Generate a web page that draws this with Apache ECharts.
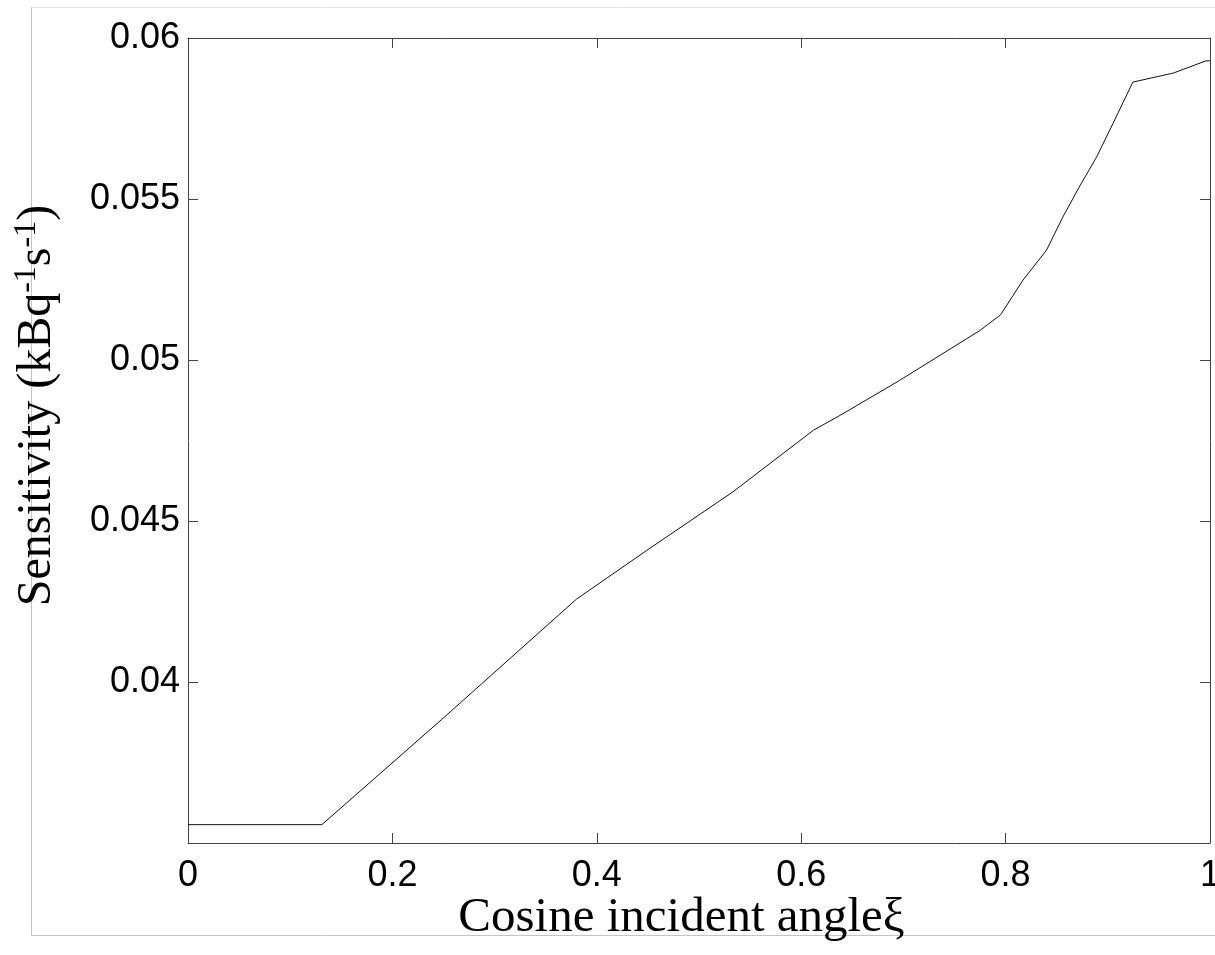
<!DOCTYPE html>
<html>
<head>
<meta charset="utf-8">
<script src="https://cdn.jsdelivr.net/npm/echarts@6/dist/echarts.min.js"></script>
<style>
html,body{margin:0;padding:0;background:#fff;}
#chart{width:1215px;height:955px;}
</style>
</head>
<body>
<div id="chart"></div>
<script>
// Data
const xValues = [0, 0.131, 0.248, 0.380, 0.449, 0.533, 0.612, 0.638, 0.696, 0.775, 0.795, 0.817, 0.840, 0.856, 0.872, 0.889, 0.905, 0.9245, 0.964, 0.996, 1.0];
const sensitivity = [0.03557, 0.03557, 0.03883, 0.04257, 0.04409, 0.04590, 0.04782, 0.04828, 0.04936, 0.05092, 0.05140, 0.05248, 0.05341, 0.05444, 0.05537, 0.05630, 0.05734, 0.05863, 0.05891, 0.05929, 0.05929];
const xTicks = [0, 0.2, 0.4, 0.6, 0.8, 1];
const xTickLabels = ['0', '0.2', '0.4', '0.6', '0.8', '1'];
const yTicks = [0.04, 0.045, 0.05, 0.055, 0.06];
const yTickLabels = ['0.04', '0.045', '0.05', '0.055', '0.06'];
const xAxisName = 'Cosine incident angle\u03BE';

function lookup(v, ticks, labels) {
  for (let i = 0; i < ticks.length; i++) {
    if (Math.abs(ticks[i] - v) < 1e-9) return labels[i];
  }
  return '';
}

const axisColor = '#444';
const tickFont = { fontFamily: 'Liberation Sans, Arial, sans-serif', fontSize: 36, color: '#000' };

const chart = echarts.init(document.getElementById('chart'), null, { renderer: 'canvas' });
const data = xValues.map((x, i) => [x, sensitivity[i]]);

chart.setOption({
  backgroundColor: '#fff',
  animation: false,
  graphic: [
    { type: 'line', z: -1, shape: { x1: 31.5, y1: 7.5, x2: 1215, y2: 7.5 }, style: { stroke: '#e3e3e3', lineWidth: 1 } },
    { type: 'line', z: -1, shape: { x1: 31.5, y1: 7.5, x2: 31.5, y2: 935.5 }, style: { stroke: '#c4c4c4', lineWidth: 1 } },
    { type: 'line', z: -1, shape: { x1: 31.5, y1: 935.5, x2: 1215, y2: 935.5 }, style: { stroke: '#c4c4c4', lineWidth: 1 } }
  ],
  grid: { left: 188, top: 38, width: 1022, height: 805, containLabel: false, outerBoundsMode: 'none' },
  xAxis: [
    {
      type: 'value', min: 0, max: 1, interval: 0.2, position: 'bottom',
      axisLine: { show: true, onZero: false, lineStyle: { color: axisColor, width: 1 } },
      axisTick: { show: true, inside: true, length: 10, lineStyle: { color: axisColor } },
      splitLine: { show: false },
      axisLabel: Object.assign({ margin: 15, formatter: v => lookup(v, xTicks, xTickLabels) }, tickFont),
      name: xAxisName,
      nameLocation: 'middle',
      nameGap: 51,
      nameMoveOverlap: false,
      nameTextStyle: { fontFamily: 'Liberation Serif, Times New Roman, serif', fontSize: 49, color: '#000', padding: [0, 35, 0, 0] }
    },
    {
      type: 'value', min: 0, max: 1, interval: 0.2, position: 'top',
      axisLine: { show: true, onZero: false, lineStyle: { color: axisColor, width: 1 } },
      axisTick: { show: true, inside: true, length: 10, lineStyle: { color: axisColor } },
      splitLine: { show: false },
      axisLabel: { show: false }
    }
  ],
  yAxis: [
    {
      type: 'value', min: 0.035, max: 0.06, interval: 0.005, position: 'left',
      axisLine: { show: true, onZero: false, lineStyle: { color: axisColor, width: 1 } },
      axisTick: { show: true, inside: true, length: 10, lineStyle: { color: axisColor } },
      splitLine: { show: false },
      axisLabel: Object.assign({ margin: 8, formatter: v => lookup(v, yTicks, yTickLabels) }, tickFont),
      name: 'Sensitivity (kBq{sup|-1}s{sup|-1})',
      nameLocation: 'middle',
      nameRotate: 90,
      nameGap: 125,
      nameMoveOverlap: false,
      nameTextStyle: {
        fontFamily: 'Liberation Serif, Times New Roman, serif', fontSize: 48, color: '#000',
        lineHeight: 52,
        padding: [0, 0, 0, 70],
        rich: {
          sup: { fontFamily: 'Liberation Serif, Times New Roman, serif', fontSize: 32, color: '#000', verticalAlign: 'top', lineHeight: 52, padding: [0, 0, 14, 0] }
        }
      }
    },
    {
      type: 'value', min: 0.035, max: 0.06, interval: 0.005, position: 'right',
      axisLine: { show: true, onZero: false, lineStyle: { color: axisColor, width: 1 } },
      axisTick: { show: true, inside: true, length: 10, lineStyle: { color: axisColor } },
      splitLine: { show: false },
      axisLabel: { show: false }
    }
  ],
  series: [
    {
      type: 'line',
      xAxisIndex: 0, yAxisIndex: 0,
      data: data,
      showSymbol: false,
      symbol: 'none',
      lineStyle: { color: '#111', width: 1 },
      clip: true
    }
  ]
});
</script>
</body>
</html>
